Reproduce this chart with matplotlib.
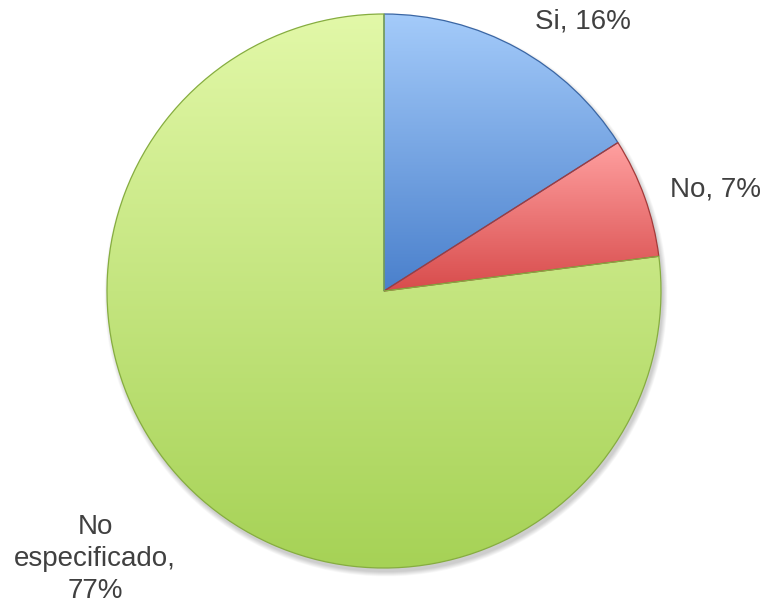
import numpy as np
import matplotlib.pyplot as plt
from matplotlib.patches import Circle
from matplotlib.colors import LinearSegmentedColormap

plt.rcParams["font.family"] = ["Liberation Sans", "DejaVu Sans"]

# datos
categorias = ["Si, ", "No, ", "No\nespecificado,\n"]
porcentajes = [16, 7, 77]
color_claro = ["#a4cbfa", "#ffa0a0", "#e2f8a8"]
color_oscuro = ["#4a80cc", "#d84c4c", "#a6d256"]
color_borde = ["#3a66a4", "#a53a3a", "#86ad40"]

W, H = 768, 608
cx, cy, r = 384, 317, 277

fig = plt.figure(figsize=(W / 100, H / 100), dpi=100)
ax = fig.add_axes([0, 0, 1, 1])

# sombra suave
for i in range(10):
    ax.add_patch(Circle((cx + 2, cy - 4), r + i * 0.5, color="black",
                        alpha=0.02, lw=0, zorder=0))

wedges, _ = ax.pie(porcentajes, center=(cx, cy), radius=r, startangle=90,
                   counterclock=False, frame=True,
                   wedgeprops=dict(linewidth=0.9))

# degradado vertical dentro de cada porción
grad = np.linspace(0, 1, 256).reshape(-1, 1)
for w, c1, c2, cb in zip(wedges, color_claro, color_oscuro, color_borde):
    w.set_facecolor("none")
    w.set_edgecolor(cb)
    w.set_zorder(3)
    ext = w.get_path().get_extents()
    cmap = LinearSegmentedColormap.from_list("g", [c1, c2])
    im = ax.imshow(grad, cmap=cmap, aspect="auto", origin="upper",
                   extent=(ext.x0, ext.x1, ext.y0, ext.y1), zorder=2)
    im.set_clip_path(w)

ax.set_xlim(0, W)
ax.set_ylim(0, H)
ax.set_aspect("equal")
ax.axis("off")

etiquetas = [f"{c}{p}%" for c, p in zip(categorias, porcentajes)]
pos = [(583, H - 21), (715, H - 190), (95, H - 559)]
for t, (x, y) in zip(etiquetas, pos):
    ax.text(x, y, t, ha="center", va="center", fontsize=20, color="#404040",
            linespacing=1.3)

fig.savefig("out.png", dpi=100)
